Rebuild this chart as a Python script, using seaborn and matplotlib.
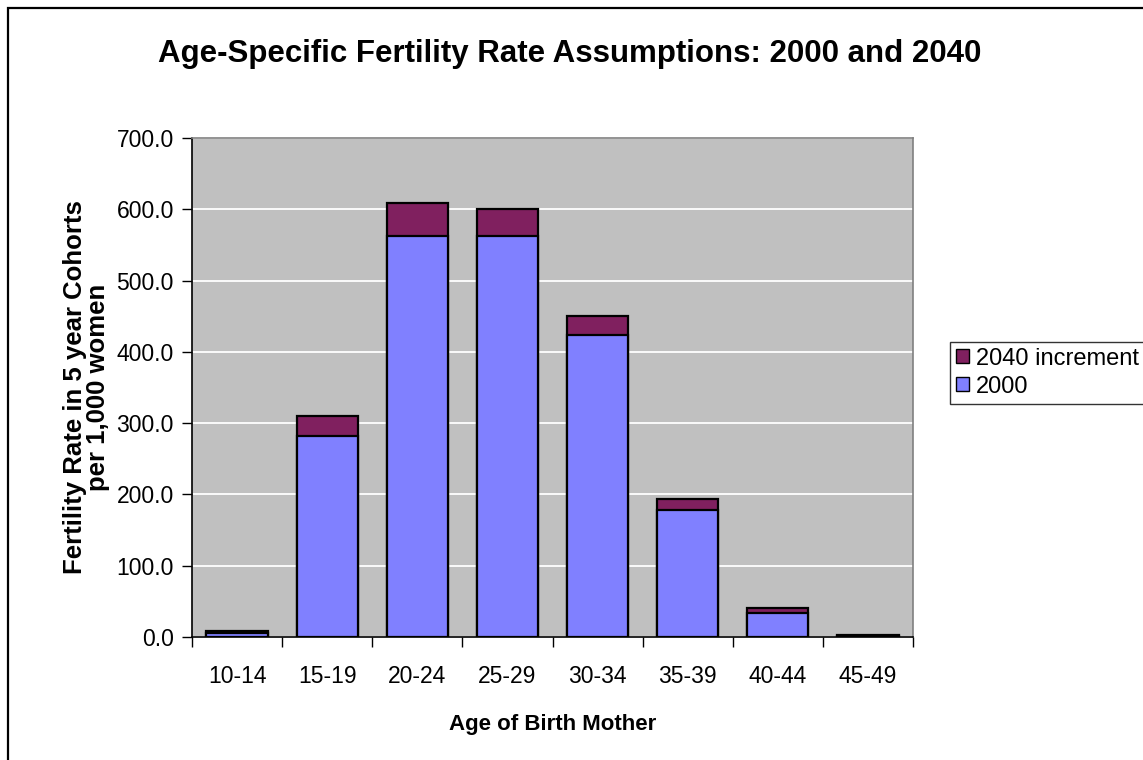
import numpy as np
import pandas as pd
import matplotlib
matplotlib.use("Agg")
import matplotlib.pyplot as plt
import seaborn as sns
from matplotlib.patches import Patch, Rectangle

ages = ["10-14", "15-19", "20-24", "25-29", "30-34", "35-39", "40-44", "45-49"]
rate_2000 = [5, 282, 562, 562, 424, 178, 33, 1.5]
increment_2040 = [3.5, 28, 47, 39, 26, 15, 7, 1.5]

blue = "#8080FF"
purple = "#80205F"

sns.set_theme(style="white")
plt.rcParams["font.family"] = ["Liberation Sans", "DejaVu Sans"]
plt.rcParams.update({"text.color": "black", "axes.labelcolor": "black",
                     "xtick.color": "black", "ytick.color": "black"})

df = pd.DataFrame({"age": ages, "y2000": rate_2000, "inc": increment_2040})
df["total"] = df["y2000"] + df["inc"]

fig = plt.figure(figsize=(11.43, 7.6), dpi=100)
ax = fig.add_axes([192 / 1143, 1 - 637 / 760, (913 - 192) / 1143, (637 - 138) / 760])
ax.set_facecolor("#C0C0C0")

# stacked look: totals in purple, 2000 values drawn over them
sns.barplot(data=df, x="age", y="total", color=purple, width=0.68,
            edgecolor="black", linewidth=1.6, saturation=1, ax=ax, zorder=3)
sns.barplot(data=df, x="age", y="y2000", color=blue, width=0.68,
            edgecolor="black", linewidth=1.6, saturation=1, ax=ax, zorder=4)

ax.set_ylim(0, 700)
ax.set_xlim(-0.5, len(ages) - 0.5)
ax.set_yticks(np.arange(0, 701, 100))
ax.set_yticklabels([f"{v:.1f}" for v in np.arange(0, 701, 100)], fontsize=16.5)
ax.yaxis.grid(True, color="white", linewidth=1.3, zorder=1)
ax.set_axisbelow(True)

# category ticks sit between bars, labels at bar centres
ax.set_xticks(np.arange(-0.5, len(ages), 1))
ax.set_xticklabels([])
ax.set_xticks(np.arange(len(ages)), minor=True)
ax.set_xticklabels(ages, minor=True, fontsize=16.5)
ax.tick_params(axis="x", which="major", length=7, width=1, direction="out", bottom=True)
ax.tick_params(axis="x", which="minor", length=0, pad=20)
ax.tick_params(axis="y", length=7, width=1, direction="out", left=True, pad=6)

for side in ["left", "bottom"]:
    ax.spines[side].set_color("black")
    ax.spines[side].set_linewidth(1.2)
for side in ["top", "right"]:
    ax.spines[side].set_color("#808080")
    ax.spines[side].set_linewidth(1.2)

ax.set_xlabel("Age of Birth Mother", fontsize=16, fontweight="bold", labelpad=19)
ax.set_ylabel("Fertility Rate in 5 year Cohorts\nper 1,000 women", fontsize=18.5,
              fontweight="bold", labelpad=5, linespacing=0.92)

fig.text(570 / 1143, 1 - 54 / 760, "Age-Specific Fertility Rate Assumptions: 2000 and 2040",
         ha="center", va="center", fontsize=22.5, fontweight="bold")

handles = [Patch(facecolor=purple, edgecolor="black", label="2040 increment"),
           Patch(facecolor=blue, edgecolor="black", label="2000")]
leg = fig.legend(handles=handles, loc="upper left", bbox_to_anchor=(938 / 1143, 1 - 330 / 760),
                 fontsize=17, frameon=True, fancybox=False, borderpad=0.25,
                 handlelength=0.55, handleheight=0.55, handletextpad=0.3, labelspacing=0.25)
leg.get_frame().set_edgecolor("black")
leg.get_frame().set_linewidth(1)

fig.patches.append(Rectangle((8 / 1143, -0.05), 1.2, 1 - 8 / 760 + 0.05,
                             transform=fig.transFigure, fill=False,
                             edgecolor="black", linewidth=1.6))

fig.savefig("out.png", dpi=100, facecolor="white")
